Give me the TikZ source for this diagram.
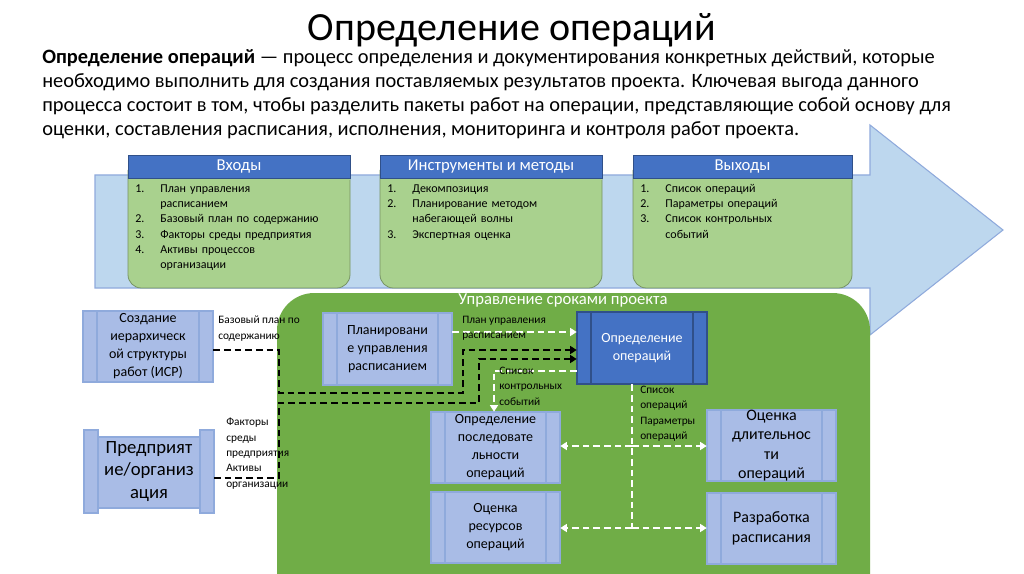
\documentclass[tikz,border=0pt]{standalone}
\usepackage{fontspec}
\setmainfont{Carlito}
\usetikzlibrary{calc,arrows.meta}
\definecolor{hdr}{HTML}{4472C4}
\definecolor{lgreen}{HTML}{A9D18E}
\definecolor{dgreen}{HTML}{70AD47}
\definecolor{arrowbl}{HTML}{BDD7EE}
\definecolor{proc}{HTML}{A9BCE6}
\definecolor{procb}{HTML}{8FAADC}
\tikzset{
 px/.style={x=0.75pt,y=-0.75pt},
 conn/.style={line width=2pt,dash pattern=on 5pt off 3pt,-{Triangle[length=5pt,width=6pt]}},
 connb/.style={conn,black},
 connw/.style={conn,white},
 lbl/.style={font=\fontsize{8.5}{11.5}\selectfont,align=left,anchor=north west,inner sep=0pt},
 lst/.style={font=\fontsize{9}{11.5}\selectfont,align=left,anchor=north west,inner sep=0pt,text width=150pt},
}
\newcommand{\procnode}[6]{% name, x1,y1,x2,y2, text
 \fill[proc] (#2,#3) rectangle (#4,#5);
 \draw[procb,line width=0.8pt] (#2,#3) rectangle (#4,#5) (#2+14,#3) -- (#2+14,#5) (#4-14,#3) -- (#4-14,#5);
 \node[align=center,inner sep=0pt,font=\fontsize{10.5}{13.5}\selectfont] (#1) at ({(#2+#4)/2},{(#3+#5)/2}) [minimum width={(#4-#2)*0.75pt},minimum height={(#5-#3)*0.75pt}] {#6};}
\begin{document}
\begin{tikzpicture}[px]
\useasboundingbox (0,0) rectangle (1024,574);
\fill[white] (0,0) rectangle (1024,574);
% title
\node (title) at (512,30) {\fontsize{30}{34}\selectfont Определение операций};
\node[anchor=north west,inner sep=0pt,align=left,font=\fontsize{15.3}{18.2}\selectfont] (para) at (42,49)
{\textbf{Определение операций} — процесс определения и документирования конкретных действий, которые\\
необходимо выполнить для создания поставляемых результатов проекта. Ключевая выгода данного\\
процесса состоит в том, чтобы разделить пакеты работ на операции, представляющие собой основу для\\
оценки, составления расписания, исполнения, мониторинга и контроля работ проекта.};
% big arrow
\draw[fill=arrowbl,draw=procb,line width=0.8pt] (95,175) -- (870,175) -- (870,125) -- (1003,230) -- (870,335) -- (870,288) -- (95,288) -- cycle;
% three columns
\foreach \xa/\xb/\t [count=\i] in {128/350/Входы,380/602/Инструменты и методы,633/852/Выходы}{
 \draw[fill=lgreen,draw=lgreen!70!black,line width=0.6pt,rounded corners=10pt] (\xa,170) -- (\xa,288) -- (\xb,288) -- (\xb,170);
 \fill[lgreen] (\xa+0.5,170) rectangle (\xb-0.5,180);
 \draw[fill=hdr,draw=hdr!70!black,line width=0.6pt] (\xa,155) rectangle (\xb,178);
 \node[white,font=\fontsize{12.5}{14}\selectfont] (h\i) at ({(\xa+\xb)/2},166.5) {\t};
}
\node[lst] (l1) at (135,181) {\begin{tabular}{@{}r@{\hspace{12pt}}l@{}}
1.& План управления\\ & расписанием\\ 2.& Базовый план по содержанию\\ 3.& Факторы среды предприятия\\ 4.& Активы процессов\\ & организации\end{tabular}};
\node[lst] (l2) at (387,181) {\begin{tabular}{@{}r@{\hspace{12pt}}l@{}}
1.& Декомпозиция\\ 2.& Планирование методом\\ & набегающей волны\\ 3.& Экспертная оценка\end{tabular}};
\node[lst] (l3) at (640,181) {\begin{tabular}{@{}r@{\hspace{12pt}}l@{}}
1.& Список операций\\ 2.& Параметры операций\\ 3.& Список контрольных\\ & событий\end{tabular}};
% green panel
\fill[dgreen,rounded corners=28pt] (277,640) -- (277,293) -- (870,293) -- (870,640) -- cycle;
\node[white,font=\fontsize{12.5}{14}\selectfont] (paneltitle) at (563,300) {Управление сроками проекта};
% processes
\procnode{isr}{83}{311}{213}{382}{Создание\\иерархическ\\ой структуры\\работ (ИСР)}
\fill[proc] (84,430) rectangle (98,513) (200,430) rectangle (214,513) (98,437) rectangle (200,508);
\draw[procb,line width=0.8pt] (84,430) rectangle (98,513) (200,430) rectangle (214,513) (98,437) rectangle (200,508);
\node[align=center,inner sep=0pt,font=\fontsize{14}{17}\selectfont,minimum width=97.5pt,minimum height=62pt] (ent) at (149,471.5) {Предприят\\ие/организ\\ация};
\procnode{plan}{323}{313}{452}{385}{Планировани\\е управления\\расписанием}
\fill[hdr] (577,312) rectangle (707,384);
\draw[hdr!70!black,line width=0.8pt] (577,312) rectangle (707,384) (591,312) -- (591,384) (693,312) -- (693,384);
\node[white,align=center,inner sep=0pt,font=\fontsize{10.5}{13.5}\selectfont,minimum width=97.5pt,minimum height=54pt] (def) at (642,348) {Определение\\операций};
\procnode{seq}{431}{412}{560}{483}{Определение\\последовате\\льности\\операций}
\procnode{res}{431}{492}{560}{563}{Оценка\\ресурсов\\операций}
\fill[proc] (707,410) rectangle (836,481);
\draw[procb,line width=0.8pt] (707,410) rectangle (836,481) (721,410) -- (721,481) (822,410) -- (822,481);
\node[align=center,inner sep=0pt,font=\fontsize{12}{14.5}\selectfont,minimum width=96.75pt,minimum height=53.25pt] (dur) at (771.5,445.5) {Оценка\\длительнос\\ти\\операций};
\fill[proc] (707,493) rectangle (836,564);
\draw[procb,line width=0.8pt] (707,493) rectangle (836,564) (721,493) -- (721,564) (822,493) -- (822,564);
\node[align=center,inner sep=0pt,font=\fontsize{12}{14.5}\selectfont,minimum width=96.75pt,minimum height=53.25pt] (dev) at (771.5,528.5) {Разработка\\расписания};
% connectors
\coordinate (c1) at (577,350);
\coordinate (c2) at (577,359);
\draw[connb] (isr.east |- 0,350) -- (279,350) -- (279,393) -- (463,393) -- (463,350) -- (def.west |- c1);
\draw[connb] (214,478) -- (279,478) -- (279,403) -- (479,403) -- (479,359) -- (def.west |- c2);
\draw[connw] (plan.east |- 0,332) -- (def.west |- 0,332);
\draw[connw] (def.west |- 0,371) -- (494,371) -- (seq.north -| 494,0);
\coordinate (j1) at (632,446);
\coordinate (j2) at (632,528);
\draw[white,line width=2pt,dash pattern=on 5pt off 3pt] (def.south -| j1) -- (j2);
\draw[connw] (j1) -- (seq.east |- j1);
\draw[connw] (j1) -- (dur.west |- j1);
\draw[connw] (j2) -- (res.east |- j2);
\draw[connw] (j2) -- (dev.west |- j2);
% labels
\node[lbl] (t1) at (218,316) {Базовый план по\\содержанию};
\node[lbl] (t2) at (226,418) {Факторы\\среды\\предприятия\\Активы\\организации};
\node[lbl] (t3) at (462,316) {План управления\\расписанием};
\node[lbl] (t4) at (499,367) {Список\\контрольных\\событий};
\node[lbl] (t5) at (640,386) {Список\\операций\\Параметры\\операций};
\end{tikzpicture}
\end{document}
